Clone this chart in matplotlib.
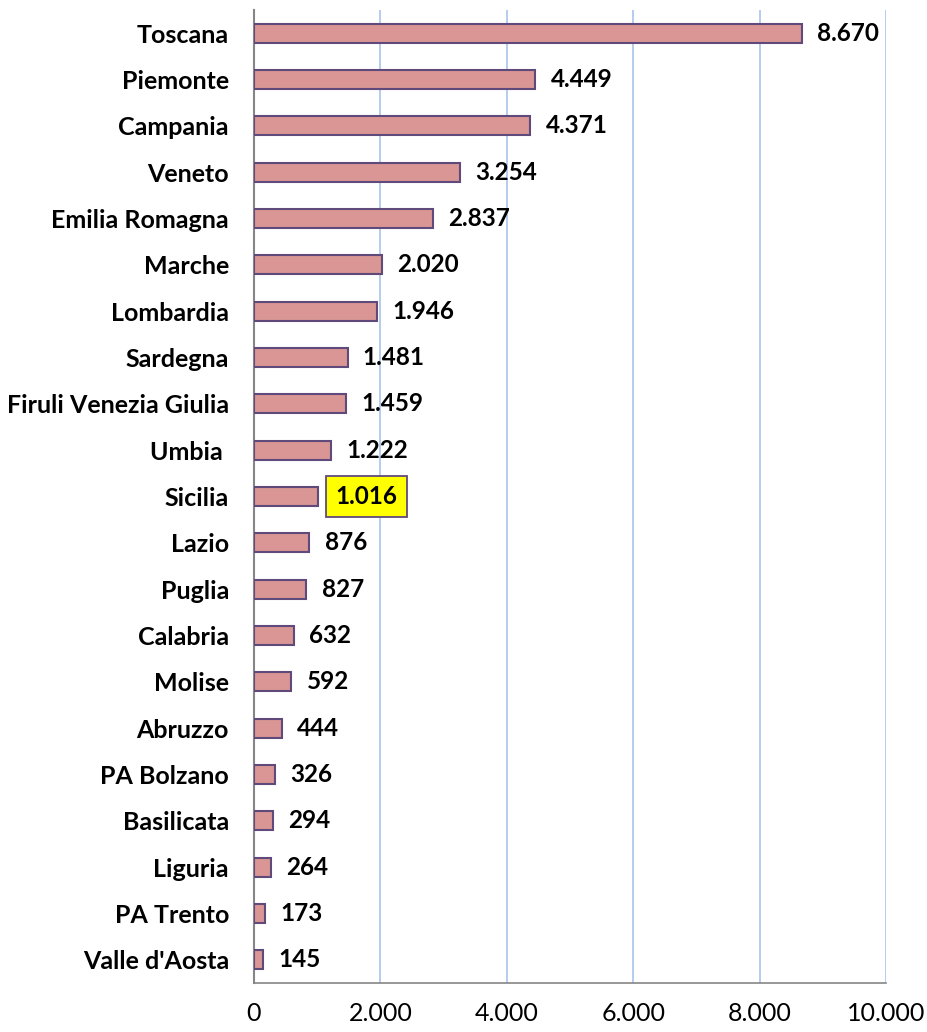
import matplotlib.pyplot as plt
from matplotlib.ticker import FuncFormatter

regions = [
    "Toscana", "Piemonte", "Campania", "Veneto", "Emilia Romagna", "Marche",
    "Lombardia", "Sardegna", "Firuli Venezia Giulia", "Umbia ", "Sicilia",
    "Lazio", "Puglia", "Calabria", "Molise", "Abruzzo", "PA Bolzano",
    "Basilicata", "Liguria", "PA Trento", "Valle d'Aosta",
]
values = [8670, 4449, 4371, 3254, 2837, 2020, 1946, 1481, 1459, 1222, 1016,
          876, 827, 632, 592, 444, 326, 294, 264, 173, 145]
highlight = "Sicilia"
x_ticks = [0, 2000, 4000, 6000, 8000, 10000]

plt.rcParams["font.family"] = ["Lato", "DejaVu Sans"]


def fmt(v, pos=None):
    return f"{int(v):,}".replace(",", ".")


fig = plt.figure(figsize=(9.27, 10.32), dpi=100)
ax = fig.add_axes([254 / 927, 1 - 983 / 1032, (886 - 254) / 927, (983 - 10) / 1032])

y = list(range(len(regions)))
ax.barh(y, values, height=0.41, color="#D99694", edgecolor="#604A7B",
        linewidth=1.5, zorder=3)

for yi, name, v in zip(y, regions, values):
    if name == highlight:
        ax.annotate(fmt(v), (v, yi), xytext=(12.5, 0), textcoords="offset points",
                    va="center", ha="left", fontsize=17.5, fontweight="bold",
                    bbox=dict(boxstyle="square,pad=0.38", fc="#FFFF00", ec="#604A7B", lw=1.3))
    else:
        ax.annotate(fmt(v), (v, yi), xytext=(11, 0), textcoords="offset points",
                    va="center", ha="left", fontsize=17.5, fontweight="bold")

ax.set_ylim(len(regions) - 0.5, -0.5)
ax.set_xlim(0, 10000)
ax.set_yticks(y)
ax.set_yticklabels(regions, fontsize=18, fontweight="bold")
ax.set_xticks(x_ticks)
ax.xaxis.set_major_formatter(FuncFormatter(fmt))
ax.tick_params(axis="x", length=0, pad=14, labelsize=18)
ax.tick_params(axis="y", length=0, pad=18)
ax.xaxis.grid(True, color="#A9C4EB", lw=1.2, zorder=0)

for s in ["top", "right"]:
    ax.spines[s].set_visible(False)
ax.spines["left"].set_color("#868686")
ax.spines["bottom"].set_color("#868686")
ax.spines["left"].set_linewidth(1.5)
ax.spines["bottom"].set_linewidth(1.2)

fig.savefig("out.png", dpi=100)
